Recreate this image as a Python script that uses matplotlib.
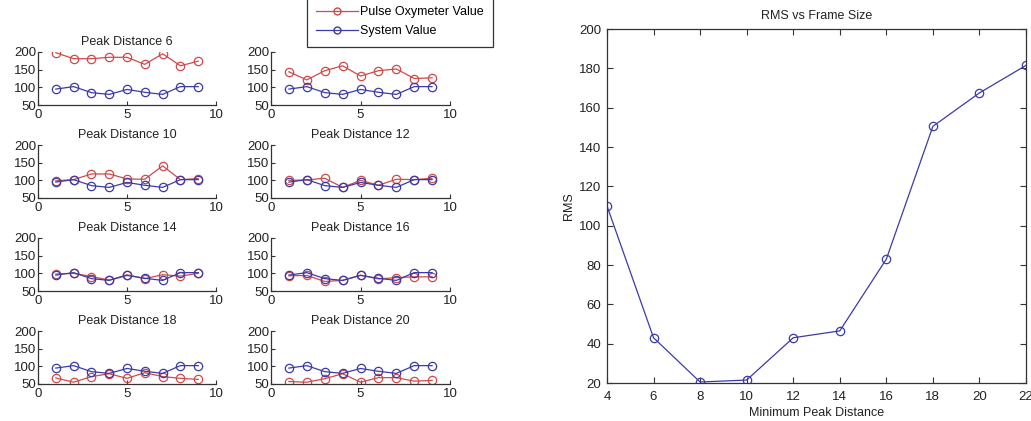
import matplotlib
matplotlib.use("Agg")
import matplotlib.pyplot as plt
from matplotlib.lines import Line2D

plt.rcParams['font.family'] = ['Liberation Sans', 'DejaVu Sans']
plt.rcParams['font.size'] = 9

# ---------------- data ----------------
samples = [1, 2, 3, 4, 5, 6, 7, 8, 9]
panel_titles = ["Peak Distance 6", "Peak Distance 8", "Peak Distance 10", "Peak Distance 12",
                "Peak Distance 14", "Peak Distance 16", "Peak Distance 18", "Peak Distance 20"]

system_value = [95, 102, 85, 80, 94, 86, 80, 102, 102]

oxy_pd6 = [198, 181, 181, 185, 185, 165, 195, 161, 174]
oxy_pd8 = [144, 121, 147, 161, 132, 147, 152, 125, 127]
oxy_pd10 = [99, 102, 118, 118, 104, 103, 141, 102, 105]
oxy_pd12 = [100, 101, 106, 80, 100, 86, 103, 102, 106]
oxy_pd14 = [98, 100, 91, 81, 96, 85, 96, 92, 100]
oxy_pd16 = [93, 94, 77, 80, 95, 84, 88, 90, 90]
oxy_pd18 = [67, 55, 71, 79, 66, 82, 71, 66, 63]
oxy_pd20 = [57, 55, 65, 79, 55, 68, 68, 58, 60]
oxy_series = [oxy_pd6, oxy_pd8, oxy_pd10, oxy_pd12, oxy_pd14, oxy_pd16, oxy_pd18, oxy_pd20]

min_peak_distance = [4, 6, 8, 10, 12, 14, 16, 18, 20, 22]
rms_values = [110, 43, 20.5, 21.5, 43, 46.5, 83, 150.5, 167.5, 181.5]

legend_labels = ["Pulse Oxymeter Value", "System Value"]

# ---------------- styling ----------------
RED = '#cf4a4a'
BLUE = '#3b3ba8'
AXC = '#333333'
TXT = '#222222'
W, H = 1031, 421
fig = plt.figure(figsize=(W / 100, H / 100), dpi=100)
fig.patch.set_facecolor('white')


def ax_px(l, t, r, b):
    return fig.add_axes([l / W, 1 - b / H, (r - l) / W, (b - t) / H])


cols = [(38, 216), (271, 450)]
rows = [(52, 105), (145, 198), (238, 291), (331, 384)]

for i, (title, oxy) in enumerate(zip(panel_titles, oxy_series)):
    r, c = divmod(i, 2)
    ax = ax_px(cols[c][0], rows[r][0], cols[c][1], rows[r][1])
    ax.plot(samples, oxy, '-o', color=RED, mfc='none', mec=RED, ms=6, lw=0.9, mew=0.9)
    ax.plot(samples, system_value, '-o', color=BLUE, mfc='none', mec=BLUE, ms=6, lw=0.9, mew=0.9)
    ax.set_xlim(0, 10)
    ax.set_ylim(50, 200)
    ax.set_xticks([0, 5, 10])
    ax.set_yticks([50, 100, 150, 200])
    ax.spines['top'].set_visible(False)
    ax.spines['right'].set_visible(False)
    for s in ('left', 'bottom'):
        ax.spines[s].set_color(AXC)
        ax.spines[s].set_linewidth(0.9)
    ax.tick_params(direction='in', length=3, width=0.8, colors=AXC, labelsize=9.5,
                   labelcolor=TXT)
    ax.tick_params(axis='y', pad=1)
    ax.tick_params(axis='x', pad=3)
    ax.set_title(title, fontsize=9, pad=5, color=TXT)

handles = [Line2D([], [], color=RED, marker='o', mfc='none', mec=RED, ms=5, lw=0.9),
           Line2D([], [], color=BLUE, marker='o', mfc='none', mec=BLUE, ms=5, lw=0.9)]
leg = fig.legend(handles, legend_labels, loc='upper left',
                 bbox_to_anchor=(307 / W, 1 + 3 / H), fancybox=False, framealpha=1,
                 edgecolor='#333333', fontsize=9, handlelength=3.3, handletextpad=0.2,
                 borderpad=0.75, labelspacing=0.55, borderaxespad=0)
leg.get_frame().set_linewidth(0.9)
leg.set_zorder(10)

# ---------------- right plot ----------------
axr = ax_px(607, 29, 1026, 383)
axr.plot(min_peak_distance, rms_values, '-o', color=BLUE, mfc='none', mec=BLUE,
         ms=6, lw=0.9, mew=0.9)
axr.set_xlim(4, 22)
axr.set_ylim(20, 200)
axr.set_xticks(list(range(4, 23, 2)))
axr.set_yticks(list(range(20, 201, 20)))
for s in axr.spines.values():
    s.set_color(AXC)
    s.set_linewidth(0.9)
axr.tick_params(direction='in', length=4, width=0.8, colors=AXC, labelsize=9.5,
                labelcolor=TXT, top=True, right=True)
axr.tick_params(axis='x', pad=6)
axr.tick_params(axis='y', pad=4)
axr.set_title("RMS vs Frame Size", fontsize=9, pad=7, color=TXT)
axr.set_xlabel("Minimum Peak Distance", fontsize=9, labelpad=3, color=TXT)
axr.set_ylabel("RMS", fontsize=9, labelpad=3, color=TXT)

fig.savefig("out.png", dpi=100)
